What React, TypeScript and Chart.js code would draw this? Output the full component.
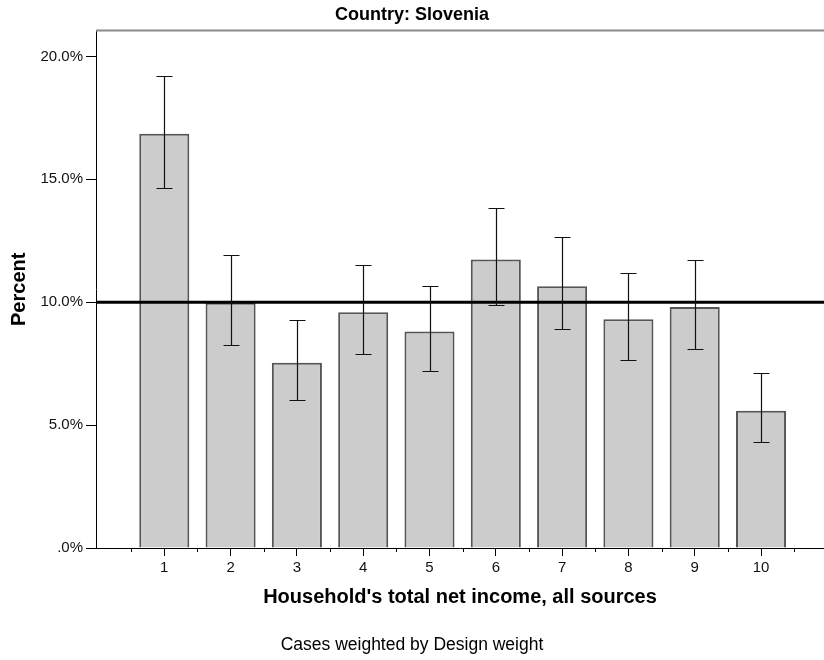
import React, { useEffect, useRef } from "react";
import { Chart, registerables } from "chart.js";

Chart.register(...registerables);

const titleText = "Country: Slovenia";
const footerText = "Cases weighted by Design weight";
const xTitle = "Household's total net income, all sources";
const yTitle = "Percent";

const categories = [1, 2, 3, 4, 5, 6, 7, 8, 9, 10];
const categoryLabels = ["1", "2", "3", "4", "5", "6", "7", "8", "9", "10"];
const minorTicks = [0.5, 1.5, 2.5, 3.5, 4.5, 5.5, 6.5, 7.5, 8.5, 9.5, 10.5];

const percentValues = [16.85, 9.98, 7.54, 9.59, 8.81, 11.74, 10.65, 9.31, 9.8, 5.58];
const upperCI = [19.21, 11.93, 9.27, 11.51, 10.66, 13.83, 12.67, 11.2, 11.71, 7.11];
const lowerCI = [14.63, 8.26, 6.04, 7.9, 7.19, 9.88, 8.89, 7.63, 8.09, 4.3];

const yTicks = [0, 5, 10, 15, 20];
const yTickLabels = [".0%", "5.0%", "10.0%", "15.0%", "20.0%"];
const referenceValue = 10;

const FONT = "'Liberation Sans', Arial, Helvetica, sans-serif";

const decorPlugin = {
  id: "decor",
  afterDatasetsDraw(chart: any) {
    const { ctx, chartArea, scales } = chart;
    const xs = scales.x;
    const ys = scales.y;
    ctx.save();
    // reference line
    const yr = ys.getPixelForValue(referenceValue);
    ctx.strokeStyle = "#000";
    ctx.lineWidth = 3;
    ctx.beginPath();
    ctx.moveTo(chartArea.left, yr);
    ctx.lineTo(chartArea.right, yr);
    ctx.stroke();
    // error bars
    ctx.strokeStyle = "#111";
    ctx.lineWidth = 1.2;
    const capHalf = 8;
    categories.forEach((c, i) => {
      const x = Math.round(xs.getPixelForValue(c)) + 0.5;
      const yu = Math.round(ys.getPixelForValue(upperCI[i])) + 0.5;
      const yl = Math.round(ys.getPixelForValue(lowerCI[i])) + 0.5;
      ctx.beginPath();
      ctx.moveTo(x, yu);
      ctx.lineTo(x, yl);
      ctx.moveTo(x - capHalf, yu);
      ctx.lineTo(x + capHalf, yu);
      ctx.moveTo(x - capHalf, yl);
      ctx.lineTo(x + capHalf, yl);
      ctx.stroke();
    });
    ctx.restore();
  },
  afterDraw(chart: any) {
    const { ctx, chartArea, scales } = chart;
    const xs = scales.x;
    ctx.save();
    // top frame line
    ctx.strokeStyle = "#8a8a8a";
    ctx.lineWidth = 2;
    ctx.beginPath();
    ctx.moveTo(chartArea.left, chartArea.top);
    ctx.lineTo(chartArea.right, chartArea.top);
    ctx.stroke();
    // minor ticks
    ctx.strokeStyle = "#000";
    ctx.lineWidth = 1;
    minorTicks.forEach((v) => {
      const x = Math.round(xs.getPixelForValue(v)) + 0.5;
      ctx.beginPath();
      ctx.moveTo(x, chartArea.bottom);
      ctx.lineTo(x, chartArea.bottom + 4);
      ctx.stroke();
    });
    ctx.restore();
  },
};

export default function App() {
  const ref = useRef<HTMLCanvasElement | null>(null);
  useEffect(() => {
    if (!ref.current) return;
    const chart = new Chart(ref.current, {
      type: "bar",
      data: {
        datasets: [
          {
            data: categories.map((c, i) => ({ x: c, y: percentValues[i] })),
            backgroundColor: "#cccccc",
            borderColor: "#555555",
            borderWidth: 2,
            barPercentage: 0.755,
            categoryPercentage: 1,
          },
        ],
      },
      options: {
        animation: false,
        responsive: false,
        layout: { padding: 0 },
        plugins: {
          legend: { display: false },
          tooltip: { enabled: false },
          title: {
            display: true,
            text: titleText,
            color: "#000",
            font: { family: FONT, size: 18, weight: "bold" },
            padding: { top: 4, bottom: 5 },
          },
          subtitle: {
            display: true,
            position: "bottom",
            text: footerText,
            color: "#000",
            font: { family: FONT, size: 17.5, weight: "normal" },
            padding: { top: 0, bottom: 4.5 },
          },
        },
        scales: {
          x: {
            type: "linear",
            min: -0.03,
            max: 10.95,
            offset: false,
            afterBuildTicks: (s: any) => {
              s.ticks = categories.map((v) => ({ value: v }));
            },
            afterFit: (s: any) => {
              s.height = 86.5;
            },
            ticks: {
              autoSkip: false,
              maxRotation: 0,
              padding: 2.5,
              color: "#111",
              font: { family: FONT, size: 15 },
              callback: (_v: any, i: number) => categoryLabels[i],
            },
            grid: {
              offset: false,
              drawOnChartArea: false,
              drawTicks: true,
              tickLength: 8,
              tickColor: "#000",
            },
            border: { color: "#000", width: 1 },
            title: {
              display: true,
              text: xTitle,
              color: "#000",
              font: { family: FONT, size: 20, weight: "bold" },
              padding: { top: 0, bottom: 25.5 },
            },
          },
          y: {
            type: "linear",
            min: 0,
            max: 21.05,
            afterBuildTicks: (s: any) => {
              s.ticks = yTicks.map((v) => ({ value: v }));
            },
            afterFit: (s: any) => {
              s.width = 96;
            },
            ticks: {
              padding: 3,
              color: "#111",
              font: { family: FONT, size: 15 },
              callback: (_v: any, i: number) => yTickLabels[i],
            },
            grid: {
              drawOnChartArea: false,
              drawTicks: true,
              tickLength: 10,
              tickColor: "#000",
            },
            border: { color: "#000", width: 1 },
            title: {
              display: true,
              text: yTitle,
              color: "#000",
              font: { family: FONT, size: 20, weight: "bold" },
              padding: { top: 7, bottom: 0 },
            },
          },
        },
      },
      plugins: [decorPlugin],
    } as any);
    return () => chart.destroy();
  }, []);
  return (
    <div style={{ position: "absolute", left: 0, top: 0, width: 824, height: 660, background: "#fff" }}>
      <canvas ref={ref} width={824} height={660} />
    </div>
  );
}
